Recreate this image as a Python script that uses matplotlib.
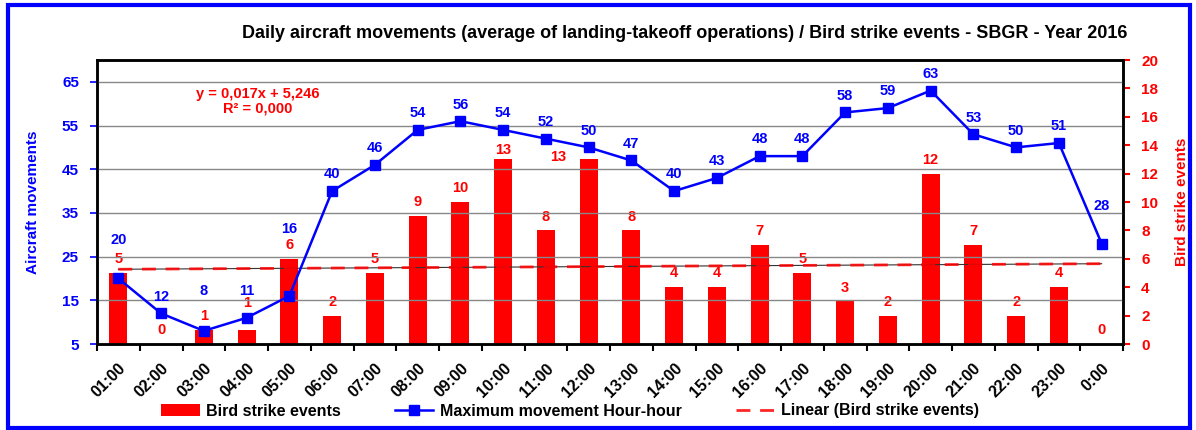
import numpy as np
import matplotlib
matplotlib.use("Agg")
import matplotlib.pyplot as plt
from matplotlib.patches import Rectangle

plt.rcParams['font.family'] = ['Liberation Sans', 'DejaVu Sans']
plt.rcParams['font.weight'] = 'bold'

# dados
horas = ["01:00", "02:00", "03:00", "04:00", "05:00", "06:00", "07:00", "08:00",
         "09:00", "10:00", "11:00", "12:00", "13:00", "14:00", "15:00", "16:00",
         "17:00", "18:00", "19:00", "20:00", "21:00", "22:00", "23:00", "0:00"]
movimentos = [20, 12, 8, 11, 16, 40, 46, 54, 56, 54, 52, 50, 47, 40, 43, 48,
              48, 58, 59, 63, 53, 50, 51, 28]
colisoes = [5, 0, 1, 1, 6, 2, 5, 9, 10, 13, 8, 13, 8, 4, 4, 7, 5, 3, 2, 12,
            7, 2, 4, 0]
coef_a = 0.017
coef_b = 5.246

AZUL = "#0000FF"
VERMELHO = "#FF0000"

fig = plt.figure(figsize=(11.96, 4.30), dpi=100)
ax = fig.add_axes([97 / 1196, 1 - 344 / 430, (1123 - 97) / 1196, (344 - 60) / 430])
ax2 = ax.twinx()

x = np.arange(len(horas))

# barras no eixo da direita
barras = ax2.bar(x, colisoes, width=0.42, color=VERMELHO, zorder=2,
                 label="Bird strike events")
tendencia = coef_a * (x + 1) + coef_b
ax2.plot(x, tendencia, color="#333333", lw=0.8, zorder=3)
linha_tend, = ax2.plot(x, tendencia, color=VERMELHO, lw=2, ls=(0, (5, 3.5)),
                       alpha=0.85, zorder=4, label="Linear (Bird strike events)")

# linha no eixo da esquerda (precisa ficar por cima)
ax.set_zorder(ax2.get_zorder() + 1)
ax.patch.set_visible(False)
linha_mov, = ax.plot(x, movimentos, color=AZUL, lw=1.8, marker="s", ms=7,
                     zorder=5, label="Maximum movement Hour-hour")

# rotulos (deslocamentos em pontos, estilo Excel)
ajuste_mov = {0: 16, 2: 17, 3: 7, 4: 36, 23: 15}
for i, v in enumerate(movimentos):
    ax.annotate(str(v), (x[i], v), xytext=(0, 12 + ajuste_mov.get(i, 0)),
                textcoords="offset points", ha="center", va="center",
                color=AZUL, fontsize=10.5, fontweight="bold", zorder=6)
ajuste_col = {3: (0, 9), 9: (0, -3), 11: (-22, -8.5)}
for i, v in enumerate(colisoes):
    dx, dy = ajuste_col.get(i, (0, 0))
    ax2.annotate(str(v), (x[i], v), xytext=(dx, 10 + dy),
                 textcoords="offset points", ha="center", va="center",
                 color=VERMELHO, fontsize=10.5, fontweight="bold")

ax.text(0.157, 0.855, "y = 0,017x + 5,246\nR² = 0,000", transform=ax.transAxes,
        ha="center", va="center", color=VERMELHO, fontsize=10.5,
        fontweight="bold", linespacing=1.05)

# eixos
ax.set_xlim(-0.5, len(horas) - 0.5)
ax.set_ylim(5, 70)
ax.set_yticks(np.arange(5, 70, 10))
ax2.set_ylim(0, 20)
ax2.set_yticks(np.arange(0, 21, 2))
ax.grid(axis="y", color="#888888", lw=1, zorder=0)
ax.set_axisbelow(True)

ax.set_xticks(x)
ax.set_xticklabels(horas, rotation=45, ha="right", rotation_mode="anchor",
                   fontsize=11.5, fontweight="bold")
ax.tick_params(axis="x", length=0, pad=12)
ax.set_xticks(np.arange(-0.5, len(horas), 1), minor=True)
ax.tick_params(axis="x", which="minor", length=5, width=1.5, direction="out")

ax.tick_params(axis="y", colors=AZUL, labelsize=11, length=5, width=1.2, pad=8)
ax2.tick_params(axis="y", colors=VERMELHO, labelsize=11, length=5, width=1.5,
                direction="out", pad=8)
for lbl in ax.get_yticklabels() + ax2.get_yticklabels():
    lbl.set_fontweight("bold")
for t in ax.yaxis.get_ticklines():
    t.set_color("#333333")
for t in ax2.yaxis.get_ticklines():
    t.set_color("black")

for sp in ax.spines.values():
    sp.set_linewidth(1.8)
    sp.set_color("black")
for sp in ax2.spines.values():
    sp.set_linewidth(1.8)
    sp.set_color("black")

ax.set_ylabel("Aircraft movements", color=AZUL, fontsize=11,
              fontweight="bold", labelpad=16)
ax2.set_ylabel("Bird strike events", color=VERMELHO, fontsize=11,
               fontweight="bold", labelpad=12)

fig.text(685 / 1196, 1 - 34 / 430,
         "Daily aircraft movements (average of landing-takeoff operations) / "
         "Bird strike events - SBGR - Year 2016",
         ha="center", va="center", fontsize=13, fontweight="bold")

fig.legend(handles=[barras, linha_mov, linha_tend], loc="center",
           bbox_to_anchor=(570 / 1196, 1 - 411 / 430), ncol=3, frameon=False,
           handlelength=2.4, columnspacing=3.4, handletextpad=0.4,
           prop={"weight": "bold", "size": 11.5})

# moldura azul
fig.patches.append(Rectangle((8 / 1196, 2 / 430), 1182 / 1196, 423 / 430,
                             transform=fig.transFigure, fill=False,
                             edgecolor=AZUL, lw=3))

fig.savefig("out.png", dpi=100)
